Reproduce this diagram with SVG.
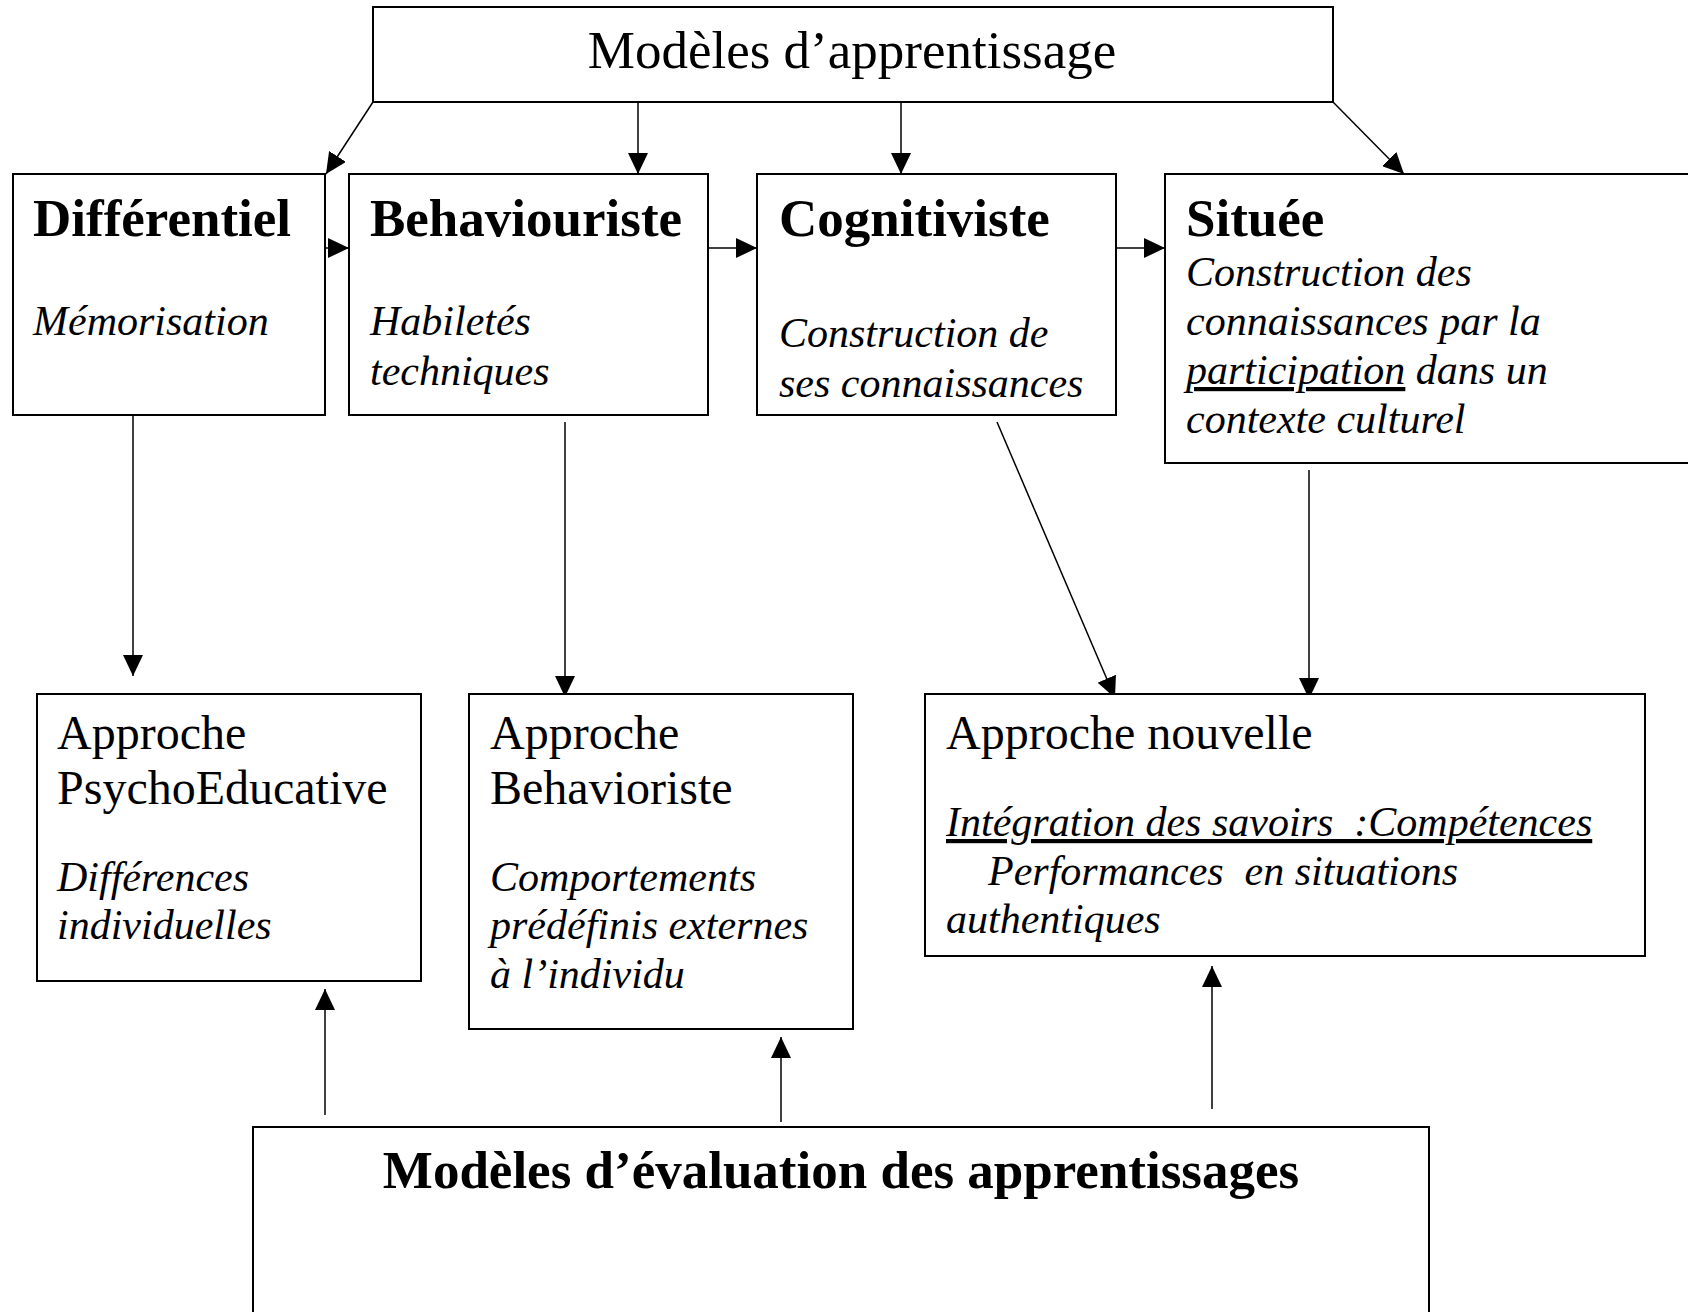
<svg xmlns="http://www.w3.org/2000/svg" width="1688" height="1312" viewBox="0 0 1688 1312">
<style>
.box{fill:#fff;stroke:#000;stroke-width:2}
.reg{font-family:"Liberation Serif","Times New Roman",serif;font-size:48px;fill:#000}
.title{font-family:"Liberation Serif","Times New Roman",serif;font-size:53px;fill:#000}
.bold{font-family:"Liberation Serif","Times New Roman",serif;font-size:53px;font-weight:bold;fill:#000}
.it{font-family:"Liberation Serif","Times New Roman",serif;font-size:42px;font-style:italic;fill:#000}
.conn{stroke:#000;stroke-width:1.5;fill:none;marker-end:url(#ah)}
</style>
<defs>
<marker id="ah" markerUnits="userSpaceOnUse" markerWidth="21" markerHeight="20" refX="21" refY="10" orient="auto">
<path d="M0,0 L21,10 L0,20 Z" fill="#000"/>
</marker>
</defs>
<rect width="1688" height="1312" fill="#fff"/>

<g id="connectors">
<line class="conn" x1="373" y1="102" x2="326" y2="174"/>
<line class="conn" x1="638" y1="102" x2="638" y2="174"/>
<line class="conn" x1="901" y1="102" x2="901" y2="174"/>
<line class="conn" x1="1333" y1="102" x2="1404" y2="174"/>
<line class="conn" x1="325" y1="248" x2="349" y2="248"/>
<line class="conn" x1="708" y1="248" x2="757" y2="248"/>
<line class="conn" x1="1116" y1="248" x2="1165" y2="248"/>
<line class="conn" x1="133" y1="413" x2="133" y2="676"/>
<line class="conn" x1="565" y1="422" x2="565" y2="697"/>
<line class="conn" x1="997" y1="422" x2="1115" y2="698"/>
<line class="conn" x1="1309" y1="470" x2="1309" y2="699"/>
<line class="conn" x1="325" y1="1115" x2="325" y2="989"/>
<line class="conn" x1="781" y1="1122" x2="781" y2="1037"/>
<line class="conn" x1="1212" y1="1109" x2="1212" y2="966"/>
</g>

<g id="modeles-apprentissage">
<rect class="box" x="373" y="7" width="960" height="95"/>
<text class="title" x="852" y="68" text-anchor="middle">Modèles d’apprentissage</text>
</g>

<g id="differentiel">
<rect class="box" x="13" y="174" width="312" height="241"/>
<text class="bold" x="33" y="236">Différentiel</text>
<text class="it" x="33" y="335">Mémorisation</text>
</g>

<g id="behaviouriste">
<rect class="box" x="349" y="174" width="359" height="241"/>
<text class="bold" x="370" y="236">Behaviouriste</text>
<text class="it" x="370" y="335">Habiletés</text>
<text class="it" x="370" y="385">techniques</text>
</g>

<g id="cognitiviste">
<rect class="box" x="757" y="174" width="359" height="241"/>
<text class="bold" x="779" y="236">Cognitiviste</text>
<text class="it" x="779" y="347">Construction de</text>
<text class="it" x="779" y="397">ses connaissances</text>
</g>

<g id="situee">
<rect class="box" x="1165" y="174" width="540" height="289"/>
<text class="bold" x="1186" y="236">Située</text>
<text class="it" x="1186" y="286">Construction des</text>
<text class="it" x="1186" y="335">connaissances par la</text>
<text class="it" x="1186" y="384"><tspan text-decoration="underline">participation</tspan> dans un</text>
<text class="it" x="1186" y="433">contexte culturel</text>
</g>

<g id="approche-psychoeducative">
<rect class="box" x="37" y="694" width="384" height="287"/>
<text class="reg" x="57" y="749">Approche</text>
<text class="reg" x="57" y="804">PsychoEducative</text>
<text class="it" x="57" y="891">Différences</text>
<text class="it" x="57" y="939">individuelles</text>
</g>

<g id="approche-behavioriste">
<rect class="box" x="469" y="694" width="384" height="335"/>
<text class="reg" x="490" y="749">Approche</text>
<text class="reg" x="490" y="804">Behavioriste</text>
<text class="it" x="490" y="891">Comportements</text>
<text class="it" x="490" y="939">prédéfinis externes</text>
<text class="it" x="490" y="988">à l’individu</text>
</g>

<g id="approche-nouvelle">
<rect class="box" x="925" y="694" width="720" height="262"/>
<text class="reg" x="946" y="749">Approche nouvelle</text>
<text class="it" x="946" y="836" xml:space="preserve" text-decoration="underline">Intégration des savoirs  :Compétences</text>
<text class="it" x="988" y="885" xml:space="preserve">Performances  en situations</text>
<text class="it" x="946" y="933">authentiques</text>
</g>

<g id="modeles-evaluation">
<rect class="box" x="253" y="1127" width="1176" height="200"/>
<text class="bold" x="841" y="1188" text-anchor="middle">Modèles d’évaluation des apprentissages</text>
</g>
</svg>
